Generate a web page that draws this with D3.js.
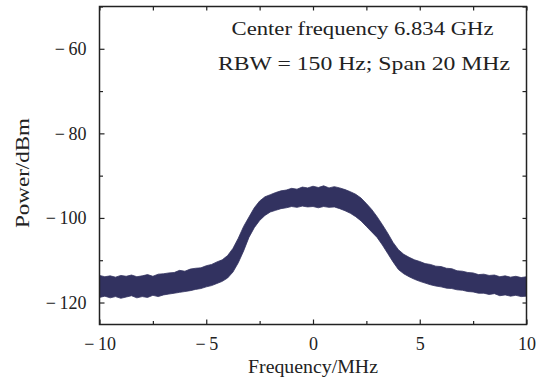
<!DOCTYPE html>
<html>
<head>
<meta charset="utf-8">
<script src="https://cdn.jsdelivr.net/npm/d3@7"></script>
<style>
	body { margin: 0; background: #fff; }
	text { font-family: "Liberation Serif", "DejaVu Serif", serif; fill: #222; }
</style>
</head>
<body>
<div id="chart"></div>
<script>
// frequency grid (MHz), 0.25 MHz steps
const freq = d3.range(-10, 10.001, 0.25).map(v => +v.toFixed(2));

// upper edge of the noisy trace (dBm)
const upper = [
	-113.6, -113.9, -113.7, -114.0, -113.6, -113.8, -113.5, -113.9, -113.7, -113.4,
	-113.8, -113.3, -113.2, -113.0, -112.9, -112.4, -112.6, -112.1, -111.9, -111.8,
	-111.3, -111.0, -110.4, -109.9, -108.9, -107.2, -104.8, -102.0, -99.8, -97.6,
	-96.0, -95.0, -94.5, -94.0, -93.6, -93.4, -93.0, -93.2, -92.7, -92.9,
	-92.5, -92.8, -92.4, -92.9, -92.6, -92.9, -93.3, -93.8, -94.4, -95.3,
	-96.6, -98.0, -99.7, -101.6, -103.6, -105.8, -107.5, -108.6, -109.3, -109.9,
	-110.3, -110.8, -111.0, -111.4, -111.5, -111.9, -112.0, -112.5, -112.6, -112.9,
	-113.0, -113.4, -113.3, -113.6, -113.5, -113.9, -113.7, -114.0, -113.8, -114.1,
	-113.9
];

// lower edge of the noisy trace (dBm)
const lower = [
	-118.8, -118.5, -118.9, -118.6, -119.0, -118.7, -118.4, -118.9, -118.6, -118.8,
	-118.3, -118.6, -118.2, -118.0, -117.8, -117.6, -117.4, -117.2, -116.9, -116.7,
	-116.3, -116.0, -115.5, -115.0, -114.2, -112.8, -110.6, -107.8, -104.6, -102.3,
	-100.6, -99.4, -98.6, -98.2, -97.8, -97.6, -97.3, -97.5, -97.2, -97.4,
	-97.3, -97.6, -97.3, -97.5, -97.4, -97.8, -98.3, -98.9, -99.7, -100.7,
	-102.0, -103.3, -104.6, -106.4, -108.4, -110.4, -112.2, -113.2, -113.9, -114.5,
	-115.0, -115.4, -115.8, -116.1, -116.3, -116.6, -116.7, -117.0, -117.1, -117.4,
	-117.5, -117.8, -117.8, -118.1, -117.9, -118.4, -118.2, -118.5, -118.3, -118.6,
	-118.5
];

const xTicks = [-10, -5, 0, 5, 10];
const xMinor = [-7.5, -2.5, 2.5, 7.5];
const yTicks = [-120, -100, -80, -60];
const yMinor = [-110, -90, -70, -50];

const notes = ["Center frequency 6.834 GHz", "RBW = 150 Hz; Span 20 MHz"];

const W = 546, H = 381;
const margin = {top: 6.5, right: 19.5, bottom: 56.5, left: 99.5};
const width = W - margin.left - margin.right;
const height = H - margin.top - margin.bottom;

const svg = d3.select("#chart").append("svg")
	.attr("width", W)
	.attr("height", H);

const g = svg.append("g")
	.attr("transform", `translate(${margin.left},${margin.top})`);

const x = d3.scaleLinear().domain([-10, 10]).range([0, width]);
const y = d3.scaleLinear().domain([-125.2, -50]).range([height, 0]);

const fmt = d => d < 0 ? "\u2212\u2009" + Math.abs(d) : String(d);

// trace band
const rows = freq.map((f, i) => ({f: f, hi: upper[i], lo: lower[i]}));
const area = d3.area()
	.x(d => x(d.f))
	.y0(d => y(d.lo))
	.y1(d => y(d.hi));

g.append("path")
	.datum(rows)
	.attr("d", area)
	.attr("fill", "#323260")
	.attr("stroke", "#323260")
	.attr("stroke-width", 0.8);

// axes, ticks pointing inward
function styleAxis(sel) {
	sel.select(".domain").remove();
	sel.selectAll(".tick line").attr("stroke", "#222").attr("stroke-width", 1.2);
	sel.selectAll("text").style("font-size", "18px").attr("fill", "#222");
}

g.append("g").attr("transform", `translate(0,${height})`)
	.call(d3.axisBottom(x).tickValues(xTicks).tickSize(-5).tickPadding(13).tickFormat(fmt))
	.call(styleAxis);
g.append("g").attr("transform", `translate(0,${height})`)
	.call(d3.axisBottom(x).tickValues(xMinor).tickSize(-3.5).tickFormat(""))
	.call(styleAxis);
g.append("g")
	.call(d3.axisTop(x).tickValues(xTicks.concat(xMinor)).tickSize(-4).tickFormat(""))
	.call(styleAxis);

g.append("g")
	.call(d3.axisLeft(y).tickValues(yTicks).tickSize(-5).tickPadding(13).tickFormat(fmt))
	.call(styleAxis);
g.append("g")
	.call(d3.axisLeft(y).tickValues(yMinor).tickSize(-3.5).tickFormat(""))
	.call(styleAxis);
g.append("g").attr("transform", `translate(${width},0)`)
	.call(d3.axisRight(y).tickValues(yTicks.concat(yMinor)).tickSize(-4).tickFormat(""))
	.call(styleAxis);

// frame
g.append("rect")
	.attr("width", width)
	.attr("height", height)
	.attr("fill", "none")
	.attr("stroke", "#222")
	.attr("stroke-width", 1.5);

// annotation
g.append("text")
	.attr("x", 132).attr("y", 28.5)
	.attr("textLength", 262).attr("lengthAdjust", "spacingAndGlyphs")
	.style("font-size", "18px")
	.text(notes[0]);
g.append("text")
	.attr("x", 118.5).attr("y", 63.5)
	.attr("textLength", 292).attr("lengthAdjust", "spacingAndGlyphs")
	.style("font-size", "18px")
	.text(notes[1]);

// axis titles
svg.append("text")
	.attr("x", margin.left + width / 2).attr("y", 373)
	.attr("text-anchor", "middle")
	.attr("textLength", 130).attr("lengthAdjust", "spacingAndGlyphs")
	.style("font-size", "18px")
	.text("Frequency/MHz");
svg.append("text")
	.attr("transform", "translate(29,173) rotate(-90)")
	.attr("text-anchor", "middle")
	.attr("textLength", 110).attr("lengthAdjust", "spacingAndGlyphs")
	.style("font-size", "18px")
	.text("Power/dBm");
</script>
</body>
</html>
